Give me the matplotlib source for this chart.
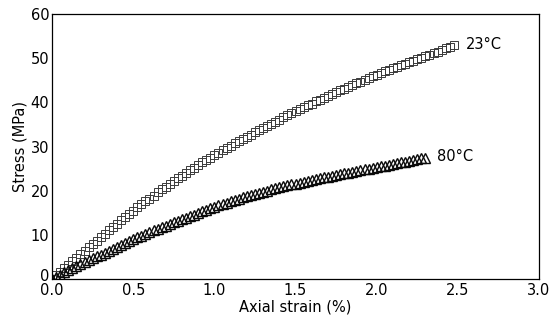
import numpy as np
import matplotlib.pyplot as plt
import matplotlib.transforms as mtransforms

# 23 C data (strain %, stress MPa)
strain_23 = [0.000, 0.025, 0.050, 0.075, 0.100, 0.125, 0.150, 0.175, 0.200, 0.225,
             0.250, 0.275, 0.300, 0.325, 0.350, 0.375, 0.400, 0.425, 0.450, 0.475,
             0.500, 0.525, 0.550, 0.575, 0.600, 0.625, 0.650, 0.675, 0.700, 0.725,
             0.750, 0.775, 0.800, 0.825, 0.850, 0.875, 0.900, 0.925, 0.950, 0.975,
             1.000, 1.025, 1.050, 1.075, 1.100, 1.125, 1.150, 1.175, 1.200, 1.225,
             1.250, 1.275, 1.300, 1.325, 1.350, 1.375, 1.400, 1.425, 1.450, 1.475,
             1.500, 1.525, 1.550, 1.575, 1.600, 1.625, 1.650, 1.675, 1.700, 1.725,
             1.750, 1.775, 1.800, 1.825, 1.850, 1.875, 1.900, 1.925, 1.950, 1.975,
             2.000, 2.025, 2.050, 2.075, 2.100, 2.125, 2.150, 2.175, 2.200, 2.225,
             2.250, 2.275, 2.300, 2.325, 2.350, 2.375, 2.400, 2.425, 2.450, 2.475]
stress_23 = [0.0, 0.8, 1.6, 2.4, 3.2, 4.0, 4.8, 5.6, 6.4, 7.2,
             7.9, 8.7, 9.5, 10.3, 11.0, 11.8, 12.5, 13.3, 14.0, 14.8,
             15.5, 16.2, 16.9, 17.6, 18.2, 18.9, 19.6, 20.3, 20.9, 21.6,
             22.2, 22.8, 23.4, 24.0, 24.6, 25.2, 25.8, 26.4, 26.9, 27.5,
             28.0, 28.6, 29.1, 29.7, 30.2, 30.7, 31.2, 31.7, 32.2, 32.7,
             33.2, 33.7, 34.2, 34.7, 35.2, 35.6, 36.1, 36.6, 37.1, 37.6,
             38.0, 38.5, 38.9, 39.3, 39.7, 40.2, 40.6, 41.0, 41.4, 41.9,
             42.3, 42.7, 43.1, 43.5, 43.9, 44.3, 44.7, 45.1, 45.5, 45.9,
             46.3, 46.6, 47.0, 47.3, 47.7, 48.0, 48.4, 48.7, 49.1, 49.4,
             49.8, 50.1, 50.5, 50.8, 51.2, 51.5, 51.9, 52.2, 52.6, 52.9]

# 80 C data
strain_80 = [0.000, 0.025, 0.050, 0.075, 0.100, 0.125, 0.150, 0.175, 0.200, 0.225,
             0.250, 0.275, 0.300, 0.325, 0.350, 0.375, 0.400, 0.425, 0.450, 0.475,
             0.500, 0.525, 0.550, 0.575, 0.600, 0.625, 0.650, 0.675, 0.700, 0.725,
             0.750, 0.775, 0.800, 0.825, 0.850, 0.875, 0.900, 0.925, 0.950, 0.975,
             1.000, 1.025, 1.050, 1.075, 1.100, 1.125, 1.150, 1.175, 1.200, 1.225,
             1.250, 1.275, 1.300, 1.325, 1.350, 1.375, 1.400, 1.425, 1.450, 1.475,
             1.500, 1.525, 1.550, 1.575, 1.600, 1.625, 1.650, 1.675, 1.700, 1.725,
             1.750, 1.775, 1.800, 1.825, 1.850, 1.875, 1.900, 1.925, 1.950, 1.975,
             2.000, 2.025, 2.050, 2.075, 2.100, 2.125, 2.150, 2.175, 2.200, 2.225,
             2.250, 2.275, 2.300]
stress_80 = [0.0, 0.5, 1.0, 1.5, 2.0, 2.4, 2.9, 3.4, 3.8, 4.3,
             4.7, 5.1, 5.5, 6.0, 6.4, 6.9, 7.3, 7.8, 8.2, 8.6,
             9.0, 9.4, 9.8, 10.2, 10.6, 11.0, 11.4, 11.7, 12.1, 12.5,
             12.9, 13.2, 13.6, 13.9, 14.3, 14.6, 15.0, 15.3, 15.7, 16.0,
             16.4, 16.7, 17.0, 17.3, 17.6, 17.9, 18.2, 18.5, 18.8, 19.0,
             19.3, 19.5, 19.8, 20.0, 20.3, 20.5, 20.8, 21.0, 21.2, 21.4,
             21.6, 21.8, 22.0, 22.2, 22.4, 22.6, 22.8, 23.0, 23.2, 23.4,
             23.6, 23.8, 24.0, 24.1, 24.3, 24.5, 24.7, 24.8, 25.0, 25.2,
             25.4, 25.5, 25.7, 25.9, 26.1, 26.2, 26.4, 26.6, 26.8, 26.9,
             27.1, 27.3, 27.5]

xticks = [0.0, 0.5, 1.0, 1.5, 2.0, 2.5, 3.0]
yticks = [0, 10, 20, 30, 40, 50, 60]

fig = plt.figure(figsize=(5.6, 3.22), dpi=100)
ax = fig.add_axes([0.093, 0.1335, 0.8695, 0.823])

ax.plot(strain_23, stress_23, ls='none', marker='s', ms=5.5, mfc='none',
        mec='#3a3a3a', mew=0.7)
ax.plot(strain_80, stress_80, ls='none', marker='^', ms=6.5, mfc='none',
        mec='#0a0a0a', mew=1.0)

ax.text(2.55, 53.2, '23°C', fontsize=10.5, va='center', ha='left')
ax.text(2.37, 27.8, '80°C', fontsize=10.5, va='center', ha='left')

ax.set_xlim(0, 3.0)
ax.set_ylim(0, 60)
ax.set_xticks(xticks)
ax.set_xticklabels([f'{v:.1f}' for v in xticks])
ax.set_yticks(yticks)
ax.tick_params(length=0, labelsize=10.5, pad=3)
ax.tick_params(axis='y', pad=2)
for s in ax.spines.values():
    s.set_linewidth(0.9)

# nudge the y "0" up a little so it clears the x "0.0"
lab0 = ax.get_yticklabels()[0]
lab0.set_transform(lab0.get_transform() +
                   mtransforms.ScaledTranslation(0, 3 / 72, fig.dpi_scale_trans))

ax.set_xlabel('Axial strain (%)', fontsize=10.5, labelpad=1)
ax.set_ylabel('Stress (MPa)', fontsize=10.5, labelpad=2)

fig.savefig('out.png', dpi=100)
